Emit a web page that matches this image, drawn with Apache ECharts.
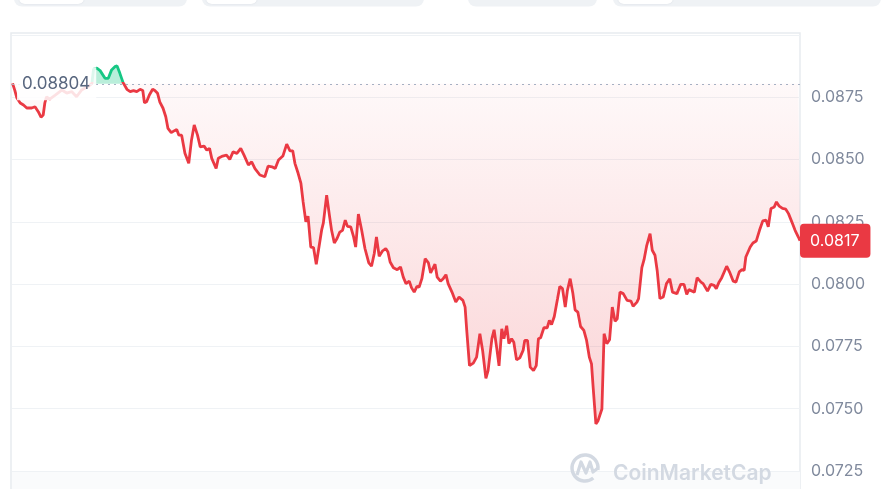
<!DOCTYPE html>
<html>
<head>
<meta charset="utf-8">
<script src="https://cdn.jsdelivr.net/npm/echarts@6/dist/echarts.min.js"></script>
<style>
  html, body { margin: 0; padding: 0; background: #ffffff; }
  #chart { width: 887px; height: 489px; }
</style>
</head>
<body>
<div id="chart"></div>
<script>
// Minutes since the start of the 24h window
const minutes = [1,5,9,15,21,27,36,42,48,53,57,60,63,69,79,91,100,109,118,127,139,146,149,155,161,170,176,182,188,192,197,203,210,216,222,228,234,239,242,246,251,257,261,266,270,276,281,285,291,297,301,305,310,316,323,328,333,339,344,351,356,361,365,373,377,385,392,398,404,411,418,424,432,438,444,453,462,468,475,481,487,495,502,508,513,517,523,528,532,537,541,546,551,556,562,566,569,575,580,584,589,594,599,604,609,613,619,624,628,633,639,645,652,657,662,666,671,677,683,687,691,697,704,710,715,720,726,730,735,740,744,749,755,761,765,773,777,783,788,793,797,804,811,817,824,828,831,836,843,849,855,860,866,870,877,881,886,890,895,899,904,908,913,917,922,928,934,937,942,947,953,958,962,966,972,978,982,986,991,997,1001,1006,1011,1015,1020,1025,1029,1034,1039,1045,1050,1055,1059,1062,1067,1071,1078,1082,1087,1092,1097,1102,1106,1111,1117,1124,1131,1135,1142,1145,1151,1155,1160,1166,1170,1175,1179,1184,1190,1196,1202,1207,1215,1218,1222,1228,1233,1237,1243,1247,1252,1259,1263,1271,1277,1283,1287,1292,1297,1306,1312,1318,1323,1329,1334,1338,1341,1349,1354,1360,1366,1372,1378,1382,1387,1393,1397,1402,1408,1414,1419,1425,1431,1437,1440];

// Price (USD)
const prices = [0.08806,0.08779,0.08747,0.08727,0.08719,0.08707,0.08707,0.08712,0.08692,0.08670,
0.08679,0.08727,0.08752,0.08743,0.08759,0.08779,0.08767,0.08773,0.08752,0.08779,
0.08793,0.08806,0.08863,0.08867,0.08857,0.08826,0.08826,0.08860,0.08873,0.08876,
0.08847,0.08809,0.08782,0.08773,0.08777,0.08773,0.08782,0.08777,0.08728,0.08732,
0.08759,0.08782,0.08777,0.08766,0.08732,0.08706,0.08672,0.08625,0.08608,0.08616,
0.08621,0.08598,0.08598,0.08525,0.08485,0.08578,0.08639,0.08598,0.08551,0.08554,
0.08538,0.08545,0.08505,0.08464,0.08505,0.08514,0.08518,0.08501,0.08531,0.08525,
0.08545,0.08518,0.08478,0.08491,0.08464,0.08438,0.08431,0.08474,0.08471,0.08464,
0.08498,0.08514,0.08562,0.08535,0.08535,0.08485,0.08444,0.08404,0.08330,0.08250,
0.08273,0.08149,0.08147,0.08080,0.08163,0.08219,0.08246,0.08357,0.08277,0.08216,
0.08165,0.08183,0.08209,0.08216,0.08257,0.08232,0.08230,0.08192,0.08149,0.08281,
0.08216,0.08143,0.08085,0.08072,0.08123,0.08189,0.08112,0.08133,0.08143,0.08129,
0.08089,0.08066,0.08058,0.08069,0.08028,0.08002,0.08012,0.07986,0.07968,0.07991,
0.07988,0.08022,0.08102,0.08085,0.08045,0.08080,0.08028,0.08012,0.08022,0.08038,
0.08002,0.07968,0.07928,0.07948,0.07935,0.07908,0.07814,0.07673,0.07683,0.07707,
0.07801,0.07734,0.07622,0.07653,0.07781,0.07817,0.07740,0.07672,0.07821,0.07781,
0.07833,0.07761,0.07781,0.07767,0.07696,0.07704,0.07734,0.07774,0.07774,0.07667,
0.07653,0.07673,0.07781,0.07785,0.07825,0.07825,0.07854,0.07838,0.07870,0.07942,
0.07991,0.07982,0.07908,0.07975,0.08022,0.07962,0.07897,0.07888,0.07830,0.07814,
0.07774,0.07707,0.07680,0.07586,0.07439,0.07452,0.07499,0.07801,0.07761,0.07777,
0.07908,0.07851,0.07861,0.07968,0.07962,0.07935,0.07932,0.07911,0.07928,0.07942,
0.08066,0.08098,0.08156,0.08203,0.08136,0.08116,0.08055,0.07942,0.07948,0.08002,
0.08022,0.07968,0.07962,0.07955,0.07999,0.07999,0.07959,0.07978,0.07972,0.07968,
0.08026,0.08008,0.08002,0.07972,0.07999,0.07995,0.07982,0.08008,0.08026,0.08072,
0.08045,0.08012,0.08008,0.08049,0.08058,0.08055,0.08109,0.08149,0.08165,0.08173,
0.08216,0.08254,0.08257,0.08230,0.08304,0.08310,0.08330,0.08313,0.08304,0.08301,
0.08283,0.08250,0.08216,0.08189,0.08174];

// Reference (opening) price shown with the dotted line
const basePrice = 0.08804;

// Y axis ticks
const yMin = 0.0725, yMax = 0.09, yStep = 0.0025;

const RED = '#ea3943', GREEN = '#16c784';
const t0 = Date.UTC(2024, 0, 1, 0, 0);
const ts = minutes.map(m => t0 + m * 60000);
const linePts = ts.map((t, i) => [t, prices[i]]);
const redBase = ts.map((t, i) => [t, Math.min(prices[i], basePrice)]);
const redFill = ts.map((t, i) => [t, basePrice - Math.min(prices[i], basePrice)]);
const greenBase = ts.map(t => [t, basePrice]);
const greenFill = ts.map((t, i) => [t, Math.max(prices[i], basePrice) - basePrice]);

// Line colour split at the reference price, relative to the line's own extent
const pMax = Math.max.apply(null, prices), pMin = Math.min.apply(null, prices);
const split = (pMax - basePrice) / (pMax - pMin);
const lineColor = new echarts.graphic.LinearGradient(0, 0, 0, 1, [
  { offset: 0, color: GREEN }, { offset: split, color: GREEN },
  { offset: split, color: RED }, { offset: 1, color: RED }
]);

const FONT = 'Inter, "Noto Sans", sans-serif';
const chart = echarts.init(document.getElementById('chart'), null, { renderer: 'canvas' });

function tab(x, w) {
  return { type: 'rect', shape: { x: x, y: -12, width: w, height: 18.5, r: 8 }, style: { fill: '#eff2f5' }, z: 0 };
}
function pill(x, w) {
  return { type: 'rect', shape: { x: x, y: -12, width: w, height: 16, r: 6 }, style: { fill: '#ffffff', shadowBlur: 2, shadowColor: 'rgba(88,102,126,0.15)' }, z: 1 };
}

const option = {
  animation: false,
  backgroundColor: '#ffffff',
  grid: { left: 12, right: 87, top: 35, bottom: 18, containLabel: false },
  xAxis: {
    type: 'time',
    min: t0, max: t0 + 1440 * 60000,
    show: false
  },
  yAxis: {
    type: 'value',
    position: 'right',
    min: yMin, max: yMax, interval: yStep,
    axisLine: { show: false },
    axisTick: { show: false },
    splitLine: { lineStyle: { color: '#eff2f5', width: 1 } },
    axisLabel: {
      showMaxLabel: false,
      margin: 11,
      fontSize: 16,
      fontFamily: FONT,
      color: '#808a9d',
      formatter: v => v.toFixed(4)
    }
  },
  graphic: [
    tab(14, 173), pill(19, 65),
    tab(202, 222), pill(206, 51),
    tab(468, 129),
    tab(613, 268), pill(618, 55),
    { type: 'rect', shape: { x: 11, y: 33, width: 789, height: 480 }, style: { fill: 'none', stroke: '#e8ebef', lineWidth: 1.5 }, z: 0, silent: true },
    { type: 'rect', shape: { x: 12, y: 472, width: 788, height: 20 }, style: { fill: '#fafbfc' }, z: 0, silent: true },
    { type: 'arc', shape: { cx: 585, cy: 468, r: 13, startAngle: Math.PI * 0.28, endAngle: Math.PI * 2.05, clockwise: true }, style: { stroke: '#d3d9e2', lineWidth: 3.5, fill: 'none' }, z: 10, silent: true },
    { type: 'polyline', shape: { points: [[577, 475], [581, 462], [586, 473], [590, 462], [593, 472], [598, 468]] }, style: { stroke: '#d3d9e2', lineWidth: 3.2, fill: 'none', lineJoin: 'round' }, z: 10, silent: true },
    { type: 'text', left: 613, top: 463, style: { text: 'CoinMarketCap', fontSize: 21, fontWeight: 600, fontFamily: FONT, fill: '#d3d9e2' }, z: 10, silent: true }
  ],
  series: [
    { type: 'line', stack: 'red', data: redBase, symbol: 'none', lineStyle: { width: 0, opacity: 0 }, silent: true, z: 1 },
    { type: 'line', stack: 'red', data: redFill, symbol: 'none', lineStyle: { width: 0, opacity: 0 }, silent: true, z: 1,
      areaStyle: { opacity: 1, color: new echarts.graphic.LinearGradient(0, 0, 0, 1, [
        { offset: 0, color: 'rgba(234,57,67,0.03)' },
        { offset: 1, color: 'rgba(234,57,67,0.22)' }
      ]) } },
    { type: 'line', stack: 'green', data: greenBase, symbol: 'none', lineStyle: { width: 0, opacity: 0 }, silent: true, z: 1 },
    { type: 'line', stack: 'green', data: greenFill, symbol: 'none', lineStyle: { width: 0, opacity: 0 }, silent: true, z: 1,
      areaStyle: { opacity: 1, color: 'rgba(22,199,132,0.30)' } },
    {
      type: 'line',
      data: linePts,
      symbol: 'none',
      z: 3,
      color: RED,
      lineStyle: { width: 2.8, color: lineColor },
      endLabel: {
        show: true,
        distance: 0,
        formatter: p => (Math.floor(p.value[1] * 10000) / 10000).toFixed(4),
        color: '#ffffff',
        backgroundColor: RED,
        borderRadius: 4,
        padding: [9, 11, 9, 10],
        fontSize: 16,
        fontFamily: FONT
      },
      markLine: {
        silent: true,
        symbol: 'none',
        precision: 5,
        z: 6,
        lineStyle: { color: '#a6b0c3', type: [2, 4], width: 1.2 },
        label: {
          show: true,
          position: 'insideStart',
          distance: 5,
          formatter: () => basePrice.toFixed(5),
          color: '#58667e',
          fontSize: 17,
          fontFamily: FONT,
          backgroundColor: 'rgba(255,255,255,0.85)',
          padding: [8, 6, 8, 5]
        },
        data: [{ yAxis: basePrice }]
      }
    }
  ]
};
chart.setOption(option);
</script>
</body>
</html>
